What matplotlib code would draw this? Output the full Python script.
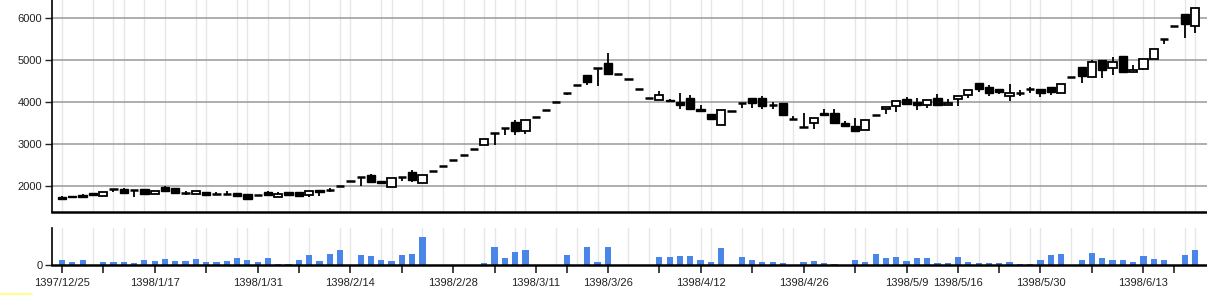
import matplotlib
matplotlib.use("Agg")
import matplotlib.pyplot as plt
from matplotlib.patches import FancyBboxPatch
import numpy as np

# daily prices (one entry per trading day)
opens = [1740, 1770, 1794, 1833, 1770, 1921, 1937, 1897, 1937, 1802,
         1976, 1944, 1825, 1802, 1857, 1810, 1810, 1825, 1810, 1786,
         1865, 1730, 1857, 1857, 1794, 1905, 1905, 2008, 2119, 2222,
         2262, 2127, 1968, 2222, 2330, 2075, 2357, 2484, 2619, 2738,
         2881, 2970, 3258, 3393, 3524, 3305, 3643, 3810, 4000, 4206,
         4405, 4643, 4820, 4925, 4663, 4544, 4306, 4087, 4048, 4056,
         4008, 4087, 3833, 3714, 3444, 3786, 3968, 4087, 4103, 3929,
         3968, 3587, 3397, 3500, 3735, 3750, 3490, 3430, 3340, 3683,
         3828, 3895, 4065, 4008, 3921, 4090, 3925, 4079, 4175, 4444,
         4365, 4310, 4151, 4214, 4302, 4317, 4349, 4206, 4587, 4825,
         4587, 4992, 4802, 5095, 4714, 4794, 5016, 5508, 5810, 6087,
         5810]
highs = [1760, 1772, 1800, 1836, 1860, 1921, 1945, 1897, 1940, 1876,
         2000, 1948, 1873, 1892, 1860, 1865, 1889, 1830, 1815, 1786,
         1880, 1865, 1860, 1860, 1881, 1908, 1944, 2008, 2119, 2222,
         2278, 2130, 2186, 2222, 2370, 2254, 2357, 2484, 2619, 2738,
         2881, 3115, 3258, 3393, 3560, 3571, 3643, 3810, 4000, 4206,
         4405, 4645, 4820, 5163, 4663, 4544, 4306, 4087, 4270, 4060,
         4214, 4167, 3937, 3714, 3802, 3786, 3968, 4090, 4151, 4000,
         3970, 3667, 3730, 3610, 3841, 3841, 3540, 3615, 3570, 3683,
         3875, 4020, 4130, 4087, 4048, 4190, 4060, 4135, 4294, 4450,
         4405, 4315, 4429, 4286, 4349, 4320, 4352, 4421, 4587, 4827,
         5000, 4995, 5079, 5100, 4881, 5032, 5254, 5508, 5810, 6090,
         6230]
lows = [1675, 1730, 1746, 1770, 1768, 1865, 1841, 1746, 1795, 1800,
        1885, 1841, 1778, 1800, 1794, 1810, 1810, 1762, 1667, 1786,
        1770, 1728, 1786, 1770, 1750, 1770, 1849, 2008, 2119, 2000,
        2063, 2071, 1966, 2127, 2105, 2075, 2357, 2484, 2619, 2738,
        2881, 2970, 2970, 3214, 3214, 3230, 3643, 3810, 4000, 4160,
        4405, 4400, 4370, 4663, 4663, 4544, 4306, 4087, 4048, 4024,
        3830, 3825, 3778, 3595, 3444, 3786, 3849, 3849, 3825, 3825,
        3690, 3587, 3397, 3350, 3683, 3495, 3432, 3320, 3340, 3683,
        3715, 3765, 3935, 3810, 3850, 3925, 3925, 3905, 4087, 4238,
        4143, 4190, 4032, 4143, 4206, 4111, 4167, 4206, 4587, 4460,
        4587, 4563, 4643, 4706, 4714, 4762, 5016, 5373, 5810, 5516,
        5635]
closes = [1680, 1735, 1750, 1775, 1857, 1921, 1841, 1897, 1817, 1873,
          1889, 1845, 1825, 1889, 1796, 1810, 1810, 1765, 1698, 1786,
          1786, 1802, 1788, 1772, 1881, 1849, 1905, 2008, 2119, 2222,
          2087, 2073, 2183, 2222, 2140, 2254, 2357, 2484, 2619, 2738,
          2881, 3115, 3258, 3393, 3298, 3571, 3643, 3810, 4000, 4206,
          4405, 4470, 4820, 4663, 4663, 4544, 4306, 4087, 4167, 4026,
          3929, 3825, 3778, 3595, 3802, 3786, 3968, 3968, 3905, 3929,
          3690, 3587, 3397, 3610, 3683, 3495, 3432, 3320, 3570, 3683,
          3875, 4020, 3945, 3937, 4048, 3925, 3980, 4135, 4294, 4302,
          4206, 4246, 4214, 4214, 4302, 4206, 4230, 4421, 4587, 4627,
          4944, 4770, 4952, 4706, 4754, 5032, 5254, 5508, 5810, 5849,
          6230]
volumes = [4.7, 3.3, 5.0, 0.3, 3.3, 2.7, 3.3, 1.7, 5.0, 4.3,
           6.0, 3.7, 3.7, 6.0, 2.7, 2.7, 3.7, 7.0, 4.7, 2.7,
           7.0, 1.3, 1.3, 5.0, 10.0, 3.7, 11.0, 15.0, 0, 10.0,
           9.0, 5.0, 4.0, 10.0, 11.0, 28.0, 0, 0, 0, 0,
           0, 2.3, 18.0, 7.3, 13.0, 15.0, 0, 0, 0, 10.0,
           0, 18.0, 2.7, 18.3, 0, 0, 0, 0, 8.3, 8.3,
           9.3, 9.3, 5.0, 3.3, 16.7, 0, 8.3, 5.0, 2.7, 3.3,
           2.3, 0, 3.3, 4.3, 2.3, 1.3, 0.3, 5.0, 3.3, 11.3,
           7.3, 8.3, 4.3, 7.3, 7.3, 1.7, 2.3, 8.3, 3.3, 1.7,
           2.3, 2.3, 3.3, 1.3, 1.3, 5.0, 10.3, 11.3, 0, 5.0,
           12.3, 7.3, 5.0, 5.0, 3.3, 9.3, 6.3, 5.3, 0, 10.3,
           15.3]

# date ticks (day index -> label), empty label = unlabelled tick
tick_idx = [0, 4, 9, 14, 19, 23, 28, 33, 38, 42, 46, 49, 53, 58, 62, 67,
            72, 77, 82, 87, 91, 95, 100, 105, 108]
tick_labels = ["1397/12/25", "", "1398/1/17", "", "1398/1/31", "",
               "1398/2/14", "", "1398/2/28", "", "1398/3/11", "",
               "1398/3/26", "", "1398/4/12", "", "1398/4/26", "",
               "1398/5/9", "1398/5/16", "", "1398/5/30", "", "1398/6/13", ""]

# light vertical grid lines
grid_idx = [0, 3, 5, 6, 8, 10, 13, 14, 17, 18, 20, 22, 24, 27, 28, 31, 32,
            35, 37, 39, 41, 42, 44, 45, 48, 50, 52, 55, 57, 59, 62, 63, 66,
            68, 70, 71, 74, 77, 78, 81, 82, 85, 87, 89, 92, 94, 95, 98, 100,
            102, 105, 106, 109, 110]

plt.rcParams["font.family"] = ["Liberation Sans", "DejaVu Sans"]
plt.rcParams["font.size"] = 8

W, H = 1207, 295
fig = plt.figure(figsize=(W / 100, H / 100), dpi=100)

XLIM = (-0.97, 111.17)
TEXT = "#222222"

# price panel
ax = fig.add_axes([52 / W, (H - 212) / H, (W - 52) / W, 212 / H])
# volume panel
axv = fig.add_axes([52 / W, (H - 265) / H, (W - 52) / W, 37 / H])

x = np.arange(len(opens))
o = np.array(opens)
h = np.array(highs)
l = np.array(lows)
c = np.array(closes)

for a in (ax, axv):
    a.set_xlim(*XLIM)
    for g in grid_idx:
        a.axvline(g, color="#e6e6e6", lw=1, zorder=0)
    a.spines["top"].set_visible(False)
    a.spines["right"].set_visible(False)
    a.spines["left"].set_linewidth(1.2)
    a.spines["bottom"].set_linewidth(1.8)

# wicks
ax.vlines(x, l, h, color="black", lw=1.3, zorder=2)

# bodies
body_w = 0.8
down = c < o
up = c > o
flat = c == o
ax.bar(x[down], (o - c)[down], bottom=c[down], width=body_w,
       color="black", edgecolor="black", lw=1, zorder=3)
ax.bar(x[up], (c - o)[up], bottom=o[up], width=body_w,
       color="white", edgecolor="black", lw=1.3, zorder=3)
ax.hlines(o[flat], x[flat] - body_w / 2, x[flat] + body_w / 2,
          color="black", lw=1.8, zorder=3)

ax.set_ylim(1381, 6429)
ax.set_yticks([2000, 3000, 4000, 5000, 6000])
ax.grid(axis="y", color="#999999", lw=1.1)
ax.set_axisbelow(True)
ax.set_xticks([])
ax.tick_params(axis="y", length=5, width=1, pad=2, colors=TEXT, labelsize=8)

# volume bars
axv.bar(x, volumes, width=0.6, color="#4a86e8", zorder=2)
axv.set_ylim(0, 37)
axv.set_yticks([0])
axv.set_xticks(tick_idx)
axv.set_xticklabels(tick_labels)
axv.tick_params(axis="y", length=5, width=1, pad=2, colors=TEXT, labelsize=8)
axv.tick_params(axis="x", length=6, width=1.2, pad=3, colors=TEXT, labelsize=8)

# the yellow mark in the bottom left corner
fig.patches.append(FancyBboxPatch((-0.01, -0.02), 45 / W, 8 / H,
                                  boxstyle="round,pad=0,rounding_size=0.004",
                                  transform=fig.transFigure,
                                  facecolor="#ffff88", edgecolor="none"))

fig.savefig("out.png", dpi=100)
